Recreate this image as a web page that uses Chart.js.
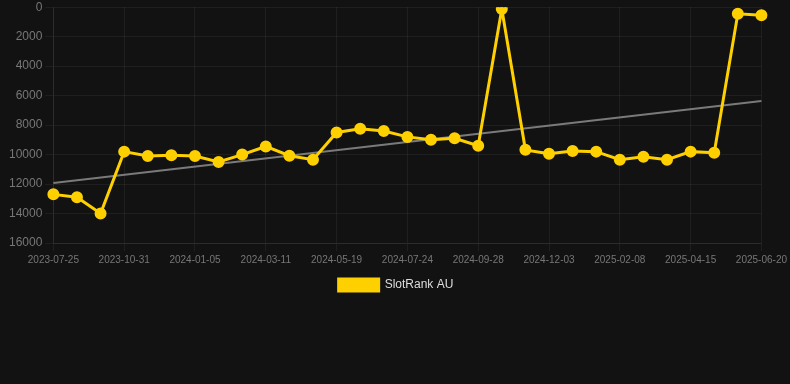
<!DOCTYPE html>
<html>
<head>
<meta charset="utf-8">
<script src="https://cdn.jsdelivr.net/npm/chart.js@4"></script>
<style>
  html, body { margin: 0; padding: 0; background: #121212; }
  #wrap { width: 790px; height: 304px; margin-top: -3px; }
</style>
</head>
<body>
<div id="wrap"><canvas id="rankChart"></canvas></div>
<script>
var dates = [
    '2023-07-25', '2023-08-27', '2023-09-29', '2023-10-31', '2023-11-22', '2023-12-14',
    '2024-01-05', '2024-01-27', '2024-02-18', '2024-03-11', '2024-04-03', '2024-04-26',
    '2024-05-19', '2024-06-10', '2024-07-02', '2024-07-24', '2024-08-15', '2024-09-06',
    '2024-09-28', '2024-10-20', '2024-11-11', '2024-12-03', '2024-12-25', '2025-01-17',
    '2025-02-08', '2025-03-02', '2025-03-24', '2025-04-15', '2025-05-07', '2025-05-29',
    '2025-06-20'
];
var rankAU = [
    12700, 12900, 14000, 9800, 10100, 10050,
    10100, 10500, 10000, 9450, 10080, 10350,
    8500, 8250, 8400, 8800, 9000, 8900,
    9400, 120, 9680, 9950, 9750, 9800,
    10350, 10150, 10350, 9800, 9870, 450,
    540
];
// trend line: only the two ends
var trend = [11930].concat(new Array(29).fill(null), [6370]);
var yTicks = [0, 2000, 4000, 6000, 8000, 10000, 12000, 14000, 16000];

var gridColor = 'rgba(255, 255, 255, 0.06)';

var ctx = document.getElementById('rankChart').getContext('2d');
var rankChart = new Chart(ctx, {
    type: 'line',
    data: {
        labels: dates,
        datasets: [{
            label: 'SlotRank AU',
            data: rankAU,
            borderColor: '#FFD000',
            backgroundColor: '#FFD000',
            borderWidth: 3,
            pointRadius: 4.5,
            pointHoverRadius: 5,
            pointBackgroundColor: '#FFD000',
            pointBorderColor: '#FFD000',
            tension: 0
        }, {
            label: 'trend',
            data: trend,
            borderColor: '#7a7a7a',
            borderWidth: 2,
            pointRadius: 0,
            spanGaps: true,
            tension: 0
        }]
    },
    options: {
        responsive: true,
        maintainAspectRatio: false,
        animation: false,
        layout: { padding: { left: 6, right: 4, top: 0, bottom: 0 } },
        scales: {
            x: {
                grid: { color: gridColor },
                border: { color: gridColor },
                ticks: {
                    autoSkip: true,
                    maxRotation: 0,
                    color: '#777',
                    font: { size: 10, family: 'Arial, sans-serif' }
                }
            },
            y: {
                reverse: true,
                min: 0,
                max: 16000,
                afterBuildTicks: function (axis) {
                    axis.ticks = yTicks.map(function (v) { return { value: v }; });
                },
                grid: { color: gridColor },
                border: { color: gridColor },
                ticks: {
                    color: '#777',
                    font: { size: 12, family: 'Arial, sans-serif' },
                    callback: function (v) { return String(v); }
                }
            }
        },
        plugins: {
            legend: {
                position: 'bottom',
                labels: {
                    color: '#ddd',
                    font: { size: 12, family: 'Arial, sans-serif' },
                    boxWidth: 40,
                    boxHeight: 12,
                    filter: function (item) { return item.datasetIndex === 0; }
                }
            },
            tooltip: { enabled: true }
        }
    }
});
</script>
</body>
</html>
